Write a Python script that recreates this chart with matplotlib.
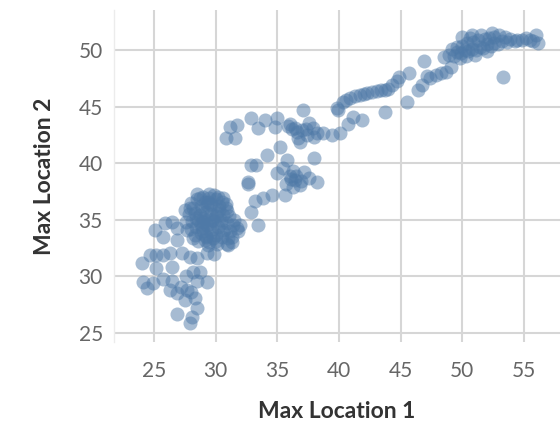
import matplotlib
matplotlib.use("Agg")
import matplotlib.pyplot as plt

# Max Location 1 (x) and Max Location 2 (y) values
# lower-left dense cluster
blob_x = [28.0, 28.5, 29.0, 29.5, 30.0, 30.5, 28.2, 28.8, 29.3, 29.8, 30.3, 30.8,
          27.8, 28.3, 28.7, 29.2, 29.6, 30.1, 30.6, 31.1, 27.6, 28.1, 28.6, 29.0,
          29.4, 29.9, 30.4, 30.9, 31.4, 28.0, 28.4, 28.9, 29.3, 29.7, 30.2, 30.7,
          31.2, 28.3, 28.8, 29.2, 29.6, 30.0, 30.5, 31.0, 28.6, 29.1, 29.5, 30.0,
          29.4, 29.9, 28.9, 29.7, 30.4, 29.0, 29.8, 28.4, 30.9, 27.9, 30.2, 28.7,
          29.2, 29.5, 30.0, 29.0, 30.6, 31.5, 31.7, 31.3, 27.5, 27.7, 28.5, 29.1,
          29.6, 30.3, 30.8, 28.2, 29.4, 30.1, 31.0, 28.8]
blob_y = [36.5, 36.8, 37.0, 36.9, 36.8, 36.6, 36.0, 36.2, 36.3, 36.1, 36.2, 36.0,
          35.5, 35.6, 35.4, 35.7, 35.5, 35.6, 35.4, 35.3, 34.8, 34.9, 35.0, 34.8,
          35.1, 34.9, 35.0, 34.7, 34.5, 34.2, 34.4, 34.3, 34.5, 34.2, 34.4, 34.1,
          34.0, 33.7, 33.8, 33.6, 33.9, 33.7, 33.5, 33.4, 33.1, 33.2, 33.0, 33.1,
          36.6, 37.2, 35.9, 35.0, 34.7, 34.0, 33.4, 35.2, 35.8, 36.0, 37.0, 36.9,
          33.5, 34.6, 35.3, 35.2, 33.9, 35.0, 34.3, 33.0, 35.9, 34.1, 37.3, 36.6,
          36.4, 35.9, 36.4, 33.4, 32.8, 32.9, 32.8, 34.6]

# scattered points around the cluster
low_x = [25.1, 25.9, 26.5, 26.9, 25.7, 26.9, 24.0, 24.7, 25.2, 25.7, 26.3, 25.2,
         26.5, 27.3, 27.9, 28.5, 29.9, 29.3, 30.9, 31.3, 29.5, 30.6, 32.0, 32.6,
         33.2, 33.4, 24.1, 24.4, 24.9, 25.7, 26.5, 26.3, 26.9, 27.7, 28.2, 28.7,
         28.5, 29.3, 27.5, 28.3, 26.9, 28.1, 27.9, 28.5, 27.2, 27.6, 28.0, 31.8]
low_y = [34.1, 34.7, 34.8, 34.3, 33.5, 33.2, 31.2, 31.9, 31.9, 31.9, 32.1, 30.7,
         30.8, 32.1, 31.7, 31.6, 32.0, 32.1, 32.9, 33.5, 37.3, 36.9, 34.5, 38.2,
         36.7, 34.5, 29.5, 29.0, 29.4, 29.8, 29.6, 28.8, 28.5, 28.8, 30.4, 30.4,
         29.6, 29.5, 27.9, 28.1, 26.7, 26.4, 25.9, 27.2, 29.1, 30.0, 28.6, 34.0]

# middle section
mid_x = [31.2, 31.7, 30.8, 31.6, 32.9, 34.0, 33.4, 35.0, 34.8, 36.0, 36.4, 37.1,
         37.6, 37.9, 38.2, 37.4, 36.7, 36.8, 38.7, 39.4, 40.1, 39.9, 40.7, 35.2,
         34.2, 33.3, 32.9, 32.6, 35.8, 35.5, 35.0, 36.0, 36.4, 36.3, 36.8, 37.2,
         37.6, 38.2, 38.0, 34.6, 33.8, 35.6, 32.9, 36.2, 36.6, 35.9, 37.0, 36.1,
         36.5, 35.7, 36.9, 37.3, 38.0, 36.3]
mid_y = [43.2, 43.4, 42.2, 42.2, 44.0, 43.8, 43.1, 44.0, 43.2, 43.5, 43.1, 44.7,
         43.6, 43.1, 42.7, 42.5, 42.2, 41.9, 42.7, 42.5, 42.7, 44.7, 43.5, 41.4,
         40.7, 39.8, 39.8, 38.3, 40.3, 39.6, 39.1, 38.9, 38.5, 37.9, 38.1, 39.2,
         38.7, 38.3, 40.5, 37.2, 36.9, 37.2, 35.7, 43.0, 42.8, 43.3, 42.9, 38.6,
         38.9, 38.2, 38.4, 43.0, 42.3, 39.3]

# upper section
up_x = [39.8, 40.6, 40.9, 41.7, 42.3, 43.1, 43.7, 44.3, 44.7, 44.9, 45.7, 46.9,
        41.1, 41.9, 43.7, 45.5, 46.4, 46.7, 47.4, 47.9, 48.7, 49.1, 53.3, 40.3,
        41.3, 42.0, 42.7, 43.4, 44.0, 47.1, 48.3,
        48.5, 48.9, 49.3, 49.6, 49.9, 50.2, 50.5, 50.8, 51.1, 51.4, 51.7, 52.0,
        52.3, 52.6, 52.9, 53.2, 50.0, 50.4, 50.9, 51.3, 51.8, 52.2, 52.6, 53.0,
        53.5, 53.9, 54.3, 49.2, 49.6, 50.6, 51.5, 52.4, 51.0, 49.8, 50.3, 52.0,
        53.6, 54.8, 55.2, 55.7, 56.0, 56.1, 54.4, 55.5, 50.0, 50.8]
up_y = [44.9, 45.6, 45.8, 46.0, 46.2, 46.4, 46.5, 46.9, 47.3, 47.6, 48.0, 49.0,
        44.1, 43.8, 44.5, 45.4, 46.5, 46.9, 47.5, 47.8, 48.1, 48.5, 47.6, 45.4,
        45.9, 46.1, 46.3, 46.5, 46.6, 47.7, 48.0,
        49.4, 49.6, 49.5, 49.8, 49.7, 50.0, 49.9, 50.1, 50.0, 50.3, 50.2, 50.5,
        50.4, 50.6, 50.5, 50.8, 50.4, 50.6, 50.7, 50.9, 51.0, 51.1, 51.2, 51.3,
        51.2, 51.0, 50.8, 50.1, 50.3, 51.1, 51.3, 51.5, 49.6, 49.3, 49.5, 49.9,
        50.7, 50.9, 51.1, 50.8, 51.3, 50.6, 50.9, 50.9, 51.2, 51.3]

x_vals = blob_x + low_x + mid_x + up_x
y_vals = blob_y + low_y + mid_y + up_y

x_ticks = [25, 30, 35, 40, 45, 50, 55]
y_ticks = [25, 30, 35, 40, 45, 50]

plt.rcParams['font.family'] = ['Lato', 'DejaVu Sans']

fig = plt.figure(figsize=(5.6, 4.23), dpi=100)
ax = fig.add_axes([0.2036, 0.1915, 0.7964, 0.7845])

ax.scatter(x_vals, y_vals, s=102, color='#4e79a7', alpha=0.5, linewidths=0, zorder=3)

ax.set_xlim(21.76, 57.92)
ax.set_ylim(24.2, 53.53)
ax.set_xticks(x_ticks)
ax.set_yticks(y_ticks)
ax.grid(True, color='#d6d6d6', linewidth=1.5, zorder=0)
ax.set_axisbelow(True)
for side in ['top', 'right', 'bottom']:
    ax.spines[side].set_visible(False)
ax.spines['left'].set_color('#ececec')
ax.spines['left'].set_linewidth(1.0)

ax.tick_params(axis='both', length=0, labelsize=15, labelcolor='#666666')
ax.tick_params(axis='x', pad=14)
ax.tick_params(axis='y', pad=8)

ax.set_xlabel('Max Location 1', fontsize=16.5, fontweight='bold', color='#333333', labelpad=14)
ax.set_ylabel('Max Location 2', fontsize=16.5, fontweight='bold', color='#333333', labelpad=17)

fig.savefig('out.png', dpi=100)
